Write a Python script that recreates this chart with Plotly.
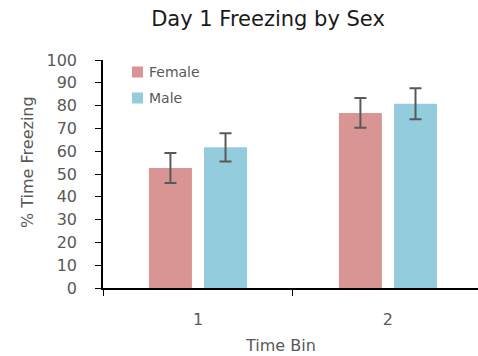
import plotly.graph_objects as go

# Day 1 freezing by sex, two time bins
time_bins = ["1", "2"]
series_names = ["Female", "Male"]
female_pct = [52.6, 76.8]
female_sem = [6.6, 6.5]
male_pct = [61.7, 80.8]
male_sem = [6.2, 6.8]

FONT = "DejaVu Sans, Verdana, sans-serif"
GREY = "#595959"
COLORS = ["#D99594", "#93CDDD"]

W, H = 478, 356
L, R, T, B = 103, 0, 60, 68
PW, PH = W - L - R, H - T - B

fig = go.Figure()
for name, vals, errs, col in zip(series_names, [female_pct, male_pct],
                                 [female_sem, male_sem], COLORS):
    fig.add_trace(go.Bar(
        name=name, x=time_bins, y=vals,
        marker=dict(color=col, line=dict(width=0)),
        error_y=dict(type="data", array=errs, visible=True,
                     color=GREY, thickness=2, width=6),
    ))

fig.update_layout(
    width=W, height=H,
    margin=dict(l=L, r=R, t=T, b=B),
    paper_bgcolor="white", plot_bgcolor="white",
    barmode="group", bargap=0.42, bargroupgap=0.22,
    font=dict(family=FONT, color=GREY, size=14),
    showlegend=False,
    title=dict(text="Day 1 Freezing by Sex", x=268 / W, xanchor="center",
               y=1 - 19 / H, yanchor="middle",
               font=dict(family=FONT, size=21, color="#1a1a1a")),
)

fig.update_xaxes(
    type="category", range=[-0.5, 1.474],
    showline=True, linecolor="black", linewidth=1.5,
    ticks="outside", tickson="boundaries", ticklen=6, tickcolor="black",
    tickfont=dict(size=16, color=GREY), ticklabelstandoff=16,
    showgrid=False, zeroline=False,
)
fig.update_yaxes(
    range=[0, 100], dtick=10, tick0=0,
    showline=True, linecolor="black", linewidth=1.5,
    ticks="outside", ticklen=6, tickcolor="black",
    tickfont=dict(size=16, color=GREY), ticklabelstandoff=15,
    showgrid=False, zeroline=False,
)

# Axis titles
fig.add_annotation(text="% Time Freezing", xref="paper", yref="paper",
                   x=-(L - 27) / PW, y=(H - B - 162) / PH, textangle=-90,
                   xanchor="center", yanchor="middle", showarrow=False,
                   font=dict(size=16, color=GREY))
fig.add_annotation(text="Time Bin", xref="paper", yref="paper",
                   x=(280 - L) / PW, y=-(345 - (H - B)) / PH,
                   xanchor="center", yanchor="middle", showarrow=False,
                   font=dict(size=16, color=GREY))

# Legend: colour swatch + series name
legend_rows_y = [72, 98]
for name, col, yc in zip(series_names, COLORS, legend_rows_y):
    fig.add_shape(type="rect", xref="paper", yref="paper",
                  x0=(132 - L) / PW, x1=(143 - L) / PW,
                  y0=(H - B - yc - 5.5) / PH, y1=(H - B - yc + 5.5) / PH,
                  fillcolor=col, line=dict(width=0))
    fig.add_annotation(text=name, xref="paper", yref="paper",
                       x=(147 - L) / PW, y=(H - B - yc) / PH,
                       xanchor="left", yanchor="middle", showarrow=False,
                       font=dict(size=14, color=GREY))

fig.write_html("out.html")
